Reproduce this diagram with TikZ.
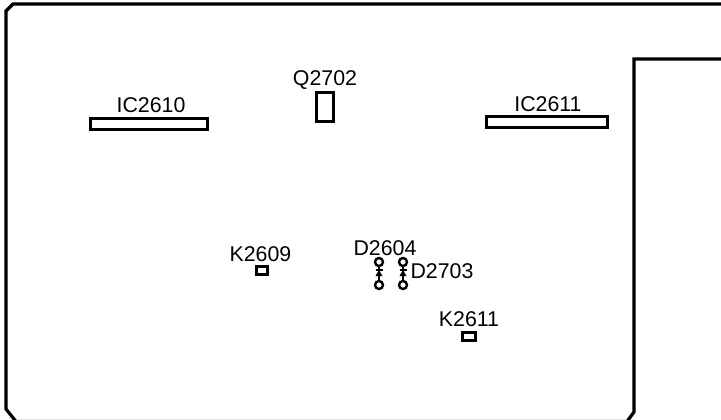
\documentclass[tikz,border=0pt]{standalone}
\usepackage{fontspec}
\setmainfont{Liberation Sans}
\tikzset{
  partbox/.style={rectangle,draw=black,line width=2pt,fill=white,inner sep=0pt},
  board/.style={draw=black,line width=2.4pt},
  reflabel/.style={inner sep=0pt,font=\fontsize{16}{19}\selectfont},
  pad/.style={circle,draw=black,line width=1.8pt,inner sep=0pt,minimum size=6pt},
}
\begin{document}
\begin{tikzpicture}[x=0.75pt,y=-0.75pt]
\useasboundingbox (0,0) rectangle (721,419);
\draw[board] (721,4) -- (13,4) -- (6,11) -- (6,409) -- (16,421.5) -- (627,421.5) -- (634,412) -- (634,59) -- (721,59);
% parts
\node[partbox,minimum width=88pt,minimum height=8.5pt] (ic2610) at (149,124) {};
\node[partbox,minimum width=91pt,minimum height=8.5pt] (ic2611) at (547,122) {};
\node[partbox,minimum width=13pt,minimum height=22pt] (q2702) at (325,107) {};
\node[partbox,minimum width=8.5pt,minimum height=6.25pt] (k2609) at (262,270.5) {};
\node[partbox,minimum width=10pt,minimum height=6.25pt] (k2611) at (469,336.5) {};
% labels
\node[reflabel] at (151,105) {IC2610};
\node[reflabel] at (548,104) {IC2611};
\node[reflabel] at (325,80) {Q2702};
\node[reflabel] at (260.5,254) {K2609};
\node[reflabel] at (385,248) {D2604};
\node[reflabel] at (442,271) {D2703};
\node[reflabel] at (469,319) {K2611};
% diodes
\node[pad] (d2604a) at (379,262) {};
\node[pad] (d2604b) at (379,285) {};
\node[pad] (d2703a) at (403,262) {};
\node[pad] (d2703b) at (403,285) {};
\draw[line width=1pt] (d2604a) -- (d2604b);
\draw[line width=1pt] (d2703a) -- (d2703b);
\fill (379,270) -- (375.5,276) -- (382.5,276) -- cycle;
\fill (403,270) -- (399.5,276) -- (406.5,276) -- cycle;
\draw[line width=1.2pt] (375.5,270) -- (382.5,270);
\draw[line width=1.2pt] (399.5,270) -- (406.5,270);
\end{tikzpicture}
\end{document}
